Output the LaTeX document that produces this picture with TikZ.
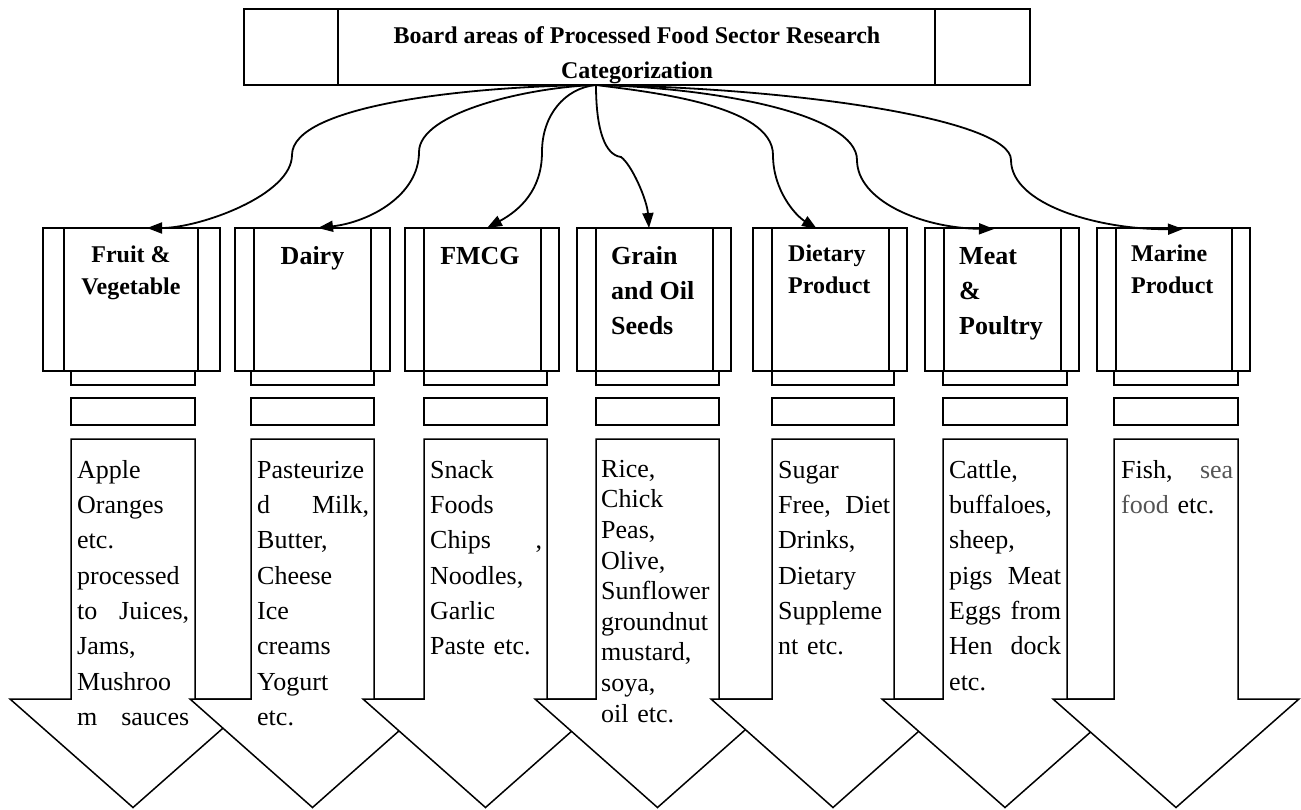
\documentclass[tikz,border=0pt]{standalone}
\usepackage{fontspec}
\setmainfont{Liberation Serif}
\usetikzlibrary{arrows.meta}
\definecolor{seagray}{RGB}{85,85,85}

% one downward block arrow: #1 = left edge of the shaft, #2 = right edge
\newcommand\foodarrow[2]{%
  \draw[arrowbody] (#1,439) -- (#2,439) -- (#2,699) -- ({#2+61},699)
    -- ({(#1+#2)/2},807.5) -- ({#1-61},699) -- (#1,699) -- cycle;}
% the two small bars under a category box
\newcommand\foodbars[2]{%
  \draw[boxline] (#1,371) rectangle (#2,385);
  \draw[boxline] (#1,398) rectangle (#2,425);}

\begin{document}
\begin{tikzpicture}[x=1pt,y=-1pt,
  boxline/.style={line width=1.8pt},
  catbox/.style={draw, line width=1.8pt, fill=white, minimum height=143pt, inner sep=0pt},
  arrowbody/.style={draw, line width=1.5pt, fill=white, line join=miter},
  conn/.style={line width=1.8pt, -{Triangle[length=15pt,width=11pt]}},
  head24/.style={inner sep=0pt, font=\bfseries\fontsize{24}{32}\selectfont},
  head26/.style={inner sep=0pt, font=\bfseries\fontsize{26}{35}\selectfont},
  bodytext/.style={inner sep=0pt, anchor=north west, text width=112pt, align=left,
    font=\fontsize{26}{35.3}\selectfont},
]
\useasboundingbox (0,0) rectangle (1301,809);

% ---- title block ----
\node[draw, line width=1.8pt, minimum width=786pt, minimum height=76pt, inner sep=0pt] (tbox) at (637,47) {};
\draw[boxline] (338,9) -- (338,85);
\draw[boxline] (935,9) -- (935,85);
\node[inner sep=0pt, anchor=north, align=center, font=\bfseries\fontsize{24}{35}\selectfont]
  (title) at (637,18.5) {\strut Board areas of Processed Food Sector Research\\Categorization};

% ---- category boxes ----
\foodbars{71}{195}
\foodbars{251}{374}
\foodbars{424}{547}
\foodbars{596}{719}
\foodbars{772}{894}
\foodbars{943}{1067}
\foodbars{1114}{1238}

\node[catbox, minimum width=177pt] (box1) at (131.5,299.5) {};
\node[catbox, minimum width=155pt] (box2) at (312.5,299.5) {};
\node[catbox, minimum width=154pt] (box3) at (482,299.5) {};
\node[catbox, minimum width=154pt] (box4) at (654,299.5) {};
\node[catbox, minimum width=154pt] (box5) at (830,299.5) {};
\node[catbox, minimum width=154pt] (box6) at (1002,299.5) {};
\node[catbox, minimum width=153pt] (box7) at (1173.5,299.5) {};

\foreach \xa/\xb in {64/198, 254/371, 424/541, 596/713, 772/889, 944/1061, 1116/1232}{
  \draw[boxline] (\xa,228) -- (\xa,371);
  \draw[boxline] (\xb,228) -- (\xb,371);
}

\node[head24, anchor=north, align=center] (lab1) at (131,240.3) {\strut Fruit \&\\Vegetable};
\node[head26, anchor=base] (lab2) at (312.5,264) {Dairy};
\node[head26, anchor=base] (lab3) at (480,264) {FMCG};
\node[head26, anchor=north west, align=left] (lab4) at (611,239.5) {\strut Grain\\and Oil\\Seeds};
\node[head24, anchor=north west, align=left] (lab5) at (788,238.6) {\strut Dietary\\Product};
\node[head26, anchor=north west, align=left] (lab6) at (959,239.5) {\strut Meat\\\&\\Poultry};
\node[head24, anchor=north west, align=left] (lab7) at (1131,238.6) {\strut Marine\\Product};

% ---- block arrows with their examples ----
\foodarrow{71}{195}
\node[bodytext] (ex1) at (77,453.3) {\strut Apple\\Oranges\\etc.\\processed\\to\hfill Juices,\\Jams,\\Mushroo\\m\hfill sauces};
\foodarrow{251}{374}
\node[bodytext] (ex2) at (257,453.3) {\strut Pasteurize\\d\hfill Milk,\\Butter,\\Cheese\\Ice\\creams\\Yogurt\\etc.};
\foodarrow{424}{547}
\node[bodytext] (ex3) at (430,453.3) {\strut Snack\\Foods\\Chips\hfill ,\\Noodles,\\Garlic\\Paste etc.};
\foodarrow{596}{719}
\node[bodytext, font=\fontsize{26}{30.6}\selectfont] (ex4) at (601,455.6) {\strut Rice,\\Chick\\Peas,\\Olive,\\Sunflower\\groundnut\\mustard,\\soya,\\oil etc.};
\foodarrow{772}{894}
\node[bodytext] (ex5) at (778,453.3) {\strut Sugar\\Free,\hfill Diet\\Drinks,\\Dietary\\Suppleme\\nt etc.};
\foodarrow{943}{1067}
\node[bodytext] (ex6) at (949,453.3) {\strut Cattle,\\buffaloes,\\sheep,\\pigs\hfill Meat\\Eggs\hfill from\\Hen\hfill dock\\etc.};
\foodarrow{1114}{1238}
\node[bodytext] (ex7) at (1121,453.3) {\strut Fish,\hfill\textcolor{seagray}{sea}\\\textcolor{seagray}{food} etc.};

% ---- connectors from the title to each category ----
\coordinate (src) at (596,85);
\coordinate (t1) at (147,228);
\coordinate (t2) at (318,228);
\coordinate (t3) at (487,228);
\coordinate (t4) at (649,228);
\coordinate (t5) at (817,229);
\coordinate (t6) at (994,229);
\coordinate (t7) at (1183,229);

\draw[conn] (src) .. controls (470,86) and (292,105) .. (292,155)
  .. controls (292,195) and (200,228) .. (t1);
\draw[conn] (src) .. controls (530,87) and (419,112) .. (419,152)
  .. controls (419,195) and (370,222) .. (t2);
\draw[conn] (src) .. controls (565,88) and (542,115) .. (542,152)
  .. controls (542,190) and (520,210) .. (t3);
\draw[conn] (src) .. controls (596,130) and (605,155) .. (621,157)
  .. controls (632,165) and (647,200) .. (t4);
\draw[conn] (src) .. controls (650,92) and (773,105) .. (773,155)
  .. controls (773,190) and (795,215) .. (t5);
\draw[conn] (src) .. controls (720,88) and (857,115) .. (857,160)
  .. controls (857,200) and (920,228) .. (t6);
\draw[conn] (src) .. controls (800,88) and (1011,120) .. (1011,160)
  .. controls (1011,205) and (1100,230) .. (t7);
\end{tikzpicture}
\end{document}
